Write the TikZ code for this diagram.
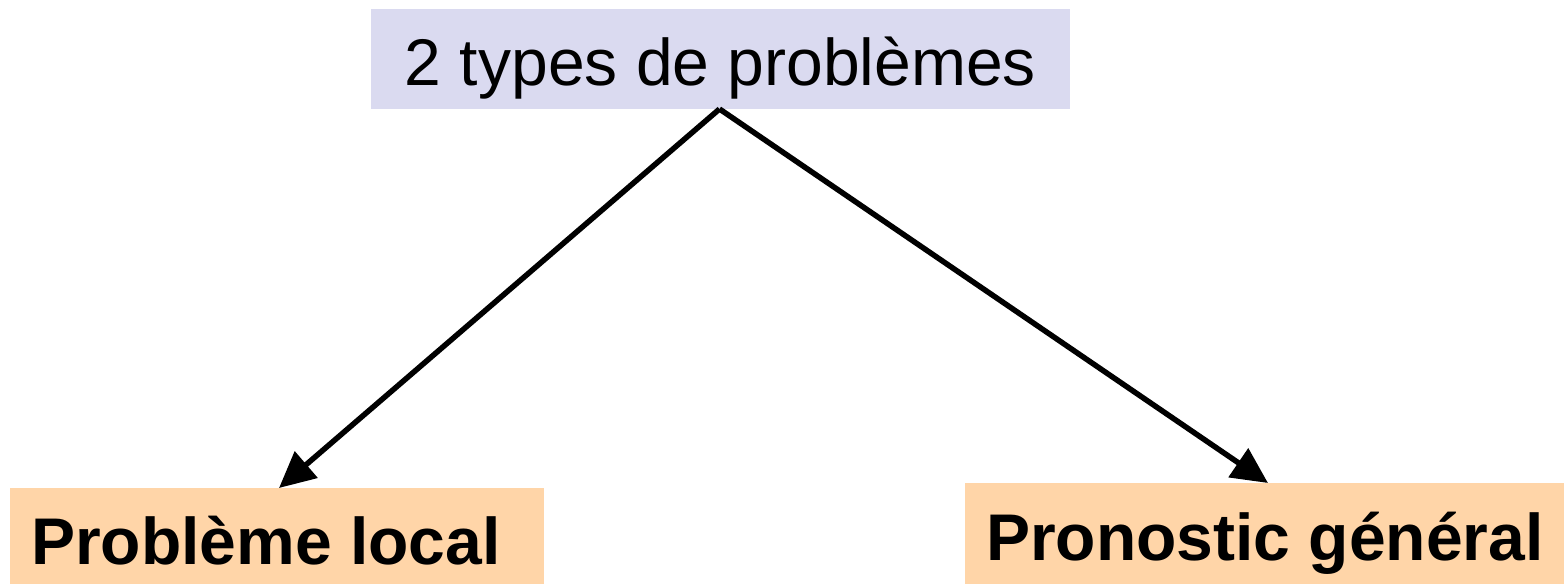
\documentclass[tikz,border=0pt]{standalone}
\usepackage{fontspec}
\setmainfont{Liberation Sans}
\usetikzlibrary{arrows.meta}
\definecolor{lavbox}{HTML}{DADAF0}
\definecolor{peachbox}{HTML}{FFD5A8}
\begin{document}
\begin{tikzpicture}[x=1pt,y=-1pt,
  box/.style={rectangle, inner sep=0pt, outer sep=0pt, draw=none},
  lbl/.style={inner sep=0pt, outer sep=0pt, font=\fontsize{66}{79}\selectfont},
  blbl/.style={lbl, font=\fontsize{66}{79}\selectfont\bfseries},
  link/.style={line width=5.5pt, -{Triangle[length=36pt,width=34pt]}, shorten >=0pt}]
  \useasboundingbox (0,0) rectangle (1564,584);
  \fill[white] (0,0) rectangle (1564,584);

  % boxes
  \node[box, fill=lavbox, minimum width=699pt, minimum height=100pt, anchor=north west] (top) at (371,9) {};
  \node[box, fill=peachbox, minimum width=534pt, minimum height=96pt, anchor=north west] (left) at (10,488) {};
  \node[box, fill=peachbox, minimum width=599pt, minimum height=101pt, anchor=north west] (right) at (965,483) {};

  % labels
  \node[lbl, anchor=base] (toptxt) at (720.5,85) {2 types de problèmes};
  \node[blbl, anchor=base west] (lefttxt) at (31,564) {Problème local};
  \node[blbl, anchor=base west] (righttxt) at (986,560) {Pronostic général};

  % connectors
  \coordinate (lefttip) at ([xshift=269pt]left.north west);
  \coordinate (righttip) at ([xshift=303pt]right.north west);
  \draw[link] ([xshift=-1pt]top.south) -- (lefttip);
  \draw[link] ([xshift=-1pt]top.south) -- (righttip);
\end{tikzpicture}
\end{document}
